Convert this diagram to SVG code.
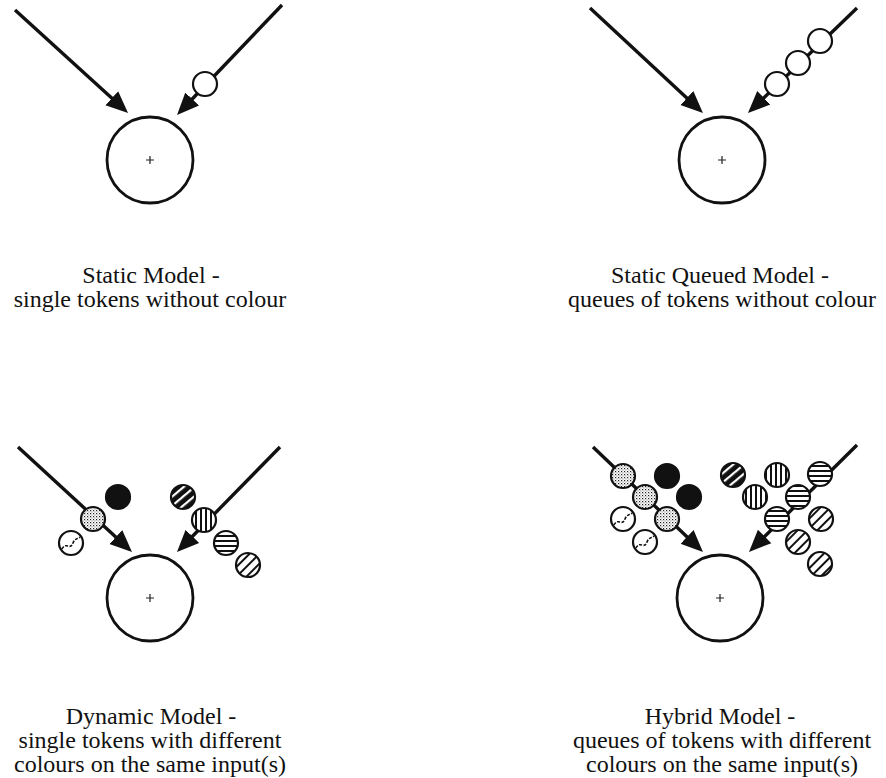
<svg xmlns="http://www.w3.org/2000/svg" width="886" height="778" viewBox="0 0 886 778">
  <style>
    .place { fill: #ffffff; stroke: #111111; stroke-width: 2.8; }
    .plus { stroke: #222222; stroke-width: 1.2; fill: none; }
    .arc { stroke: #111111; stroke-width: 3.4; fill: none; marker-end: url(#head); }
    .tok { stroke: #111111; stroke-width: 2.2; }
    .label { font-family: "Liberation Serif", "Times New Roman", serif; font-size: 24px; fill: #111111; text-anchor: middle; }
  </style>
  <defs>
    <marker id="head" markerUnits="userSpaceOnUse" viewBox="0 -11 24 22" markerWidth="24" markerHeight="22" refX="11" refY="0" orient="auto">
      <path d="M0,-9.5 L22,0 L0,9.5 Z" fill="#111111"/>
    </marker>
    <!-- stippled grey -->
    <pattern id="stipple" patternUnits="userSpaceOnUse" width="3" height="3">
      <rect width="3" height="3" fill="#ffffff"/>
      <rect x="0" y="0" width="1.2" height="1.2" fill="#222222"/>
      <rect x="1.5" y="1.5" width="1" height="1" fill="#666666"/>
    </pattern>
    <!-- vertical stripes -->
    <pattern id="vstripe" patternUnits="userSpaceOnUse" width="5" height="5">
      <rect width="5" height="5" fill="#ffffff"/>
      <rect x="0" y="0" width="2" height="5" fill="#111111"/>
    </pattern>
    <!-- horizontal stripes -->
    <pattern id="hstripe" patternUnits="userSpaceOnUse" width="5" height="5">
      <rect width="5" height="5" fill="#ffffff"/>
      <rect x="0" y="0" width="5" height="2" fill="#111111"/>
    </pattern>
    <!-- dark diagonal stripes on white -->
    <pattern id="dlight" patternUnits="userSpaceOnUse" width="7" height="7" patternTransform="rotate(-45)">
      <rect width="7" height="7" fill="#ffffff"/>
      <rect x="0" y="0" width="7" height="2" fill="#111111"/>
    </pattern>
    <!-- white diagonal stripes on black -->
    <pattern id="ddark" patternUnits="userSpaceOnUse" width="7" height="7" patternTransform="rotate(-40)">
      <rect width="7" height="7" fill="#111111"/>
      <rect x="0" y="0" width="7" height="2.2" fill="#ffffff"/>
    </pattern>
    <!-- single wavy line token -->
    <g id="wavy">
      <circle r="12" fill="#ffffff" class="tok"/>
      <path d="M-9,6 C-5,-2 -1,8 2,0 C4,-5 7,-4 9,-6" fill="none" stroke="#111111" stroke-width="1.6" stroke-dasharray="3 1.5"/>
    </g>
  </defs>

  <!-- input arcs -->
  <g id="connectors">
    <line class="arc" x1="15" y1="10" x2="119.9" y2="105.6"/>
    <line class="arc" x1="282" y1="5" x2="184.6" y2="107"/>
    <line class="arc" x1="590" y1="8" x2="694.9" y2="105.5"/>
    <line class="arc" x1="857" y1="8" x2="755.9" y2="105.4"/>
    <line class="arc" x1="18" y1="447" x2="123.9" y2="544.5"/>
    <line class="arc" x1="280" y1="447" x2="184.7" y2="544.2"/>
    <line class="arc" x1="593" y1="447" x2="695" y2="544.4"/>
    <line class="arc" x1="857" y1="445" x2="756.8" y2="544.2"/>
  </g>

  <!-- static model -->
  <g id="static-model">
    <circle class="place" cx="150" cy="160" r="43"/>
    <path class="plus" d="M146,160 H154 M150,156 V164"/>
    <circle class="tok" cx="205" cy="84" r="12" fill="#ffffff"/>
    <text class="label" x="151" y="283">Static Model -</text>
    <text class="label" x="150" y="307">single tokens without colour</text>
  </g>

  <!-- static queued model -->
  <g id="static-queued-model">
    <circle class="place" cx="722" cy="160" r="43"/>
    <path class="plus" d="M718,160 H726 M722,156 V164"/>
    <circle class="tok" cx="820" cy="41" r="12" fill="#ffffff"/>
    <circle class="tok" cx="798" cy="63" r="12" fill="#ffffff"/>
    <circle class="tok" cx="777" cy="84" r="12" fill="#ffffff"/>
    <text class="label" x="720" y="283">Static Queued Model -</text>
    <text class="label" x="722" y="307">queues of tokens without colour</text>
  </g>

  <!-- dynamic model -->
  <g id="dynamic-model">
    <circle class="place" cx="150" cy="598" r="43"/>
    <path class="plus" d="M146,598 H154 M150,594 V602"/>
    <circle class="tok" cx="93" cy="519" r="12" fill="url(#stipple)"/>
    <circle class="tok" cx="118" cy="497" r="12" fill="#111111"/>
    <use href="#wavy" x="71" y="543"/>
    <circle class="tok" cx="183" cy="497" r="12" fill="url(#ddark)"/>
    <circle class="tok" cx="204" cy="520" r="12" fill="url(#vstripe)"/>
    <circle class="tok" cx="226" cy="543" r="12" fill="url(#hstripe)"/>
    <circle class="tok" cx="248" cy="565" r="12" fill="url(#dlight)"/>
    <text class="label" x="151" y="724">Dynamic Model -</text>
    <text class="label" x="150" y="748">single tokens with different</text>
    <text class="label" x="150" y="772">colours on the same input(s)</text>
  </g>

  <!-- hybrid model -->
  <g id="hybrid-model">
    <circle class="place" cx="720" cy="598" r="43"/>
    <path class="plus" d="M716,598 H724 M720,594 V602"/>
    <circle class="tok" cx="623" cy="476" r="12" fill="url(#stipple)"/>
    <circle class="tok" cx="645" cy="497" r="12" fill="url(#stipple)"/>
    <circle class="tok" cx="667" cy="519" r="12" fill="url(#stipple)"/>
    <circle class="tok" cx="667" cy="476" r="12" fill="#111111"/>
    <circle class="tok" cx="689" cy="497" r="12" fill="#111111"/>
    <use href="#wavy" x="623" y="519"/>
    <use href="#wavy" x="645" y="542"/>
    <circle class="tok" cx="733" cy="475" r="12" fill="url(#ddark)"/>
    <circle class="tok" cx="777" cy="475" r="12" fill="url(#vstripe)"/>
    <circle class="tok" cx="755" cy="497" r="12" fill="url(#vstripe)"/>
    <circle class="tok" cx="820" cy="474" r="12" fill="url(#hstripe)"/>
    <circle class="tok" cx="798" cy="497" r="12" fill="url(#hstripe)"/>
    <circle class="tok" cx="777" cy="519" r="12" fill="url(#hstripe)"/>
    <circle class="tok" cx="821" cy="519" r="12" fill="url(#dlight)"/>
    <circle class="tok" cx="798" cy="542" r="12" fill="url(#dlight)"/>
    <circle class="tok" cx="820" cy="564" r="12" fill="url(#dlight)"/>
    <text class="label" x="720" y="724">Hybrid Model -</text>
    <text class="label" x="722" y="748">queues of tokens with different</text>
    <text class="label" x="722" y="772">colours on the same input(s)</text>
  </g>
</svg>
